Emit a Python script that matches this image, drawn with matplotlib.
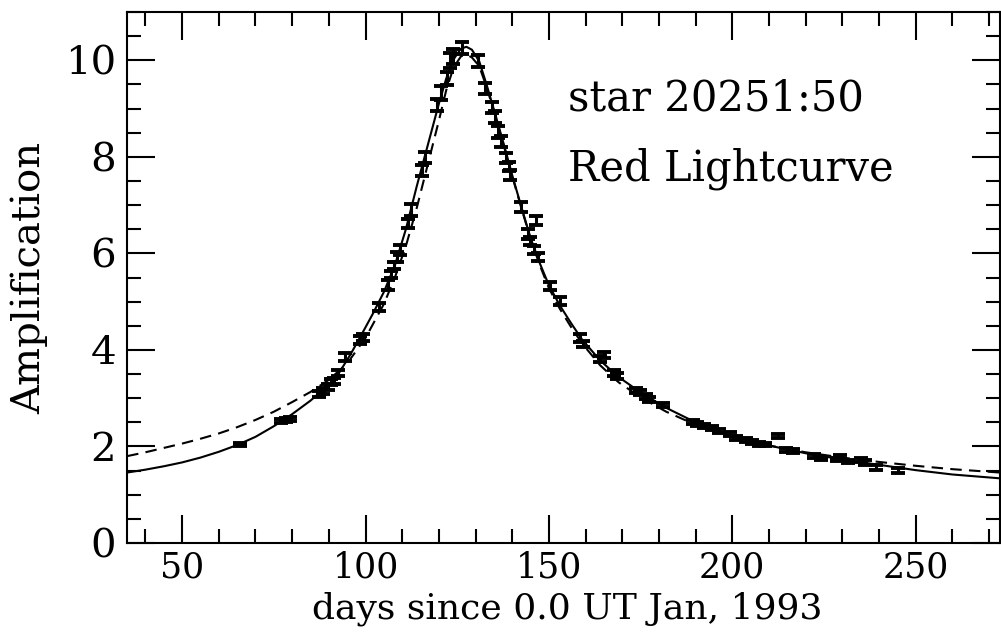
import matplotlib
matplotlib.use('Agg')
import matplotlib.pyplot as plt
from matplotlib.ticker import MultipleLocator

plt.rcParams['font.family'] = ['DejaVu Serif']

# fit curves (day, amplification)
solid_t = [35, 40, 45, 50, 55, 60, 65, 70, 75, 80, 85, 90, 93, 96, 99, 102,
           105, 108, 111, 114, 117, 120, 122, 124, 126, 127.5, 129, 131, 133,
           135.5, 138, 140, 142.5, 145, 147.5, 150, 153, 156, 159, 164, 169,
           175, 182, 190, 200, 210, 220, 230, 240, 250, 260, 273]
solid_a = [1.46, 1.52, 1.59, 1.67, 1.77, 1.89, 2.03, 2.20, 2.42, 2.67, 2.95,
           3.28, 3.55, 3.92, 4.33, 4.75, 5.20, 5.75, 6.50, 7.40, 8.25, 9.10,
           9.62, 10.02, 10.24, 10.28, 10.22, 9.98, 9.50, 8.85, 8.18, 7.62,
           6.96, 6.32, 5.80, 5.34, 4.92, 4.56, 4.22, 3.78, 3.44, 3.12, 2.80,
           2.50, 2.21, 2.02, 1.86, 1.73, 1.62, 1.51, 1.42, 1.34]

dash_t = [35, 40, 45, 50, 55, 60, 65, 70, 75, 80, 85, 90, 95, 100, 105, 108,
          111, 114, 117, 120, 122, 124, 126, 127.5, 129, 131, 133, 135.5, 138,
          140, 142.5, 145, 147.5, 150, 153, 156, 159, 164, 169, 175, 182, 190,
          200, 210, 220, 230, 240, 250, 260, 273]
dash_a = [1.80, 1.88, 1.97, 2.06, 2.16, 2.27, 2.40, 2.55, 2.72, 2.92, 3.13,
          3.38, 3.72, 4.25, 4.95, 5.50, 6.15, 6.95, 7.85, 8.75, 9.38, 9.85,
          10.08, 10.12, 10.06, 9.88, 9.45, 8.82, 8.15, 7.60, 6.94, 6.30, 5.76,
          5.28, 4.85, 4.48, 4.14, 3.68, 3.33, 3.02, 2.72, 2.45, 2.19, 2.02,
          1.88, 1.77, 1.68, 1.60, 1.53, 1.46]

# measurements
days = [65.7, 77.0, 78.2, 79.3, 87.3, 88.5, 89.7, 90.6, 91.5, 92.6, 94.3,
        98.4, 99.2, 103.6, 106.1, 107.0, 107.9, 108.5, 109.3, 111.5, 112.5,
        115.3, 116.3, 119.5, 120.5, 122.3, 122.9, 123.8, 126.4, 130.6, 132.7,
        134.6, 135.4, 136.1, 137.0, 138.3, 139.0, 139.4, 142.3, 146.5, 144.3,
        144.8, 146.0, 147.0, 150.4, 152.9, 158.4, 159.3, 163.8, 164.9, 167.8,
        168.6, 173.8, 174.8, 176.4, 177.4, 181.1, 189.3, 190.5, 192.2, 194.5,
        196.5, 199.5, 201.0, 203.8, 205.5, 207.4, 209.0, 212.4, 214.7, 216.5,
        222.3, 224.3, 228.5, 229.5, 231.5, 235.2, 236.2, 239.3, 245.2]
ampl = [2.05, 2.52, 2.55, 2.57, 3.09, 3.15, 3.24, 3.33, 3.36, 3.52, 3.86,
        4.20, 4.26, 4.89, 5.34, 5.56, 5.75, 5.92, 6.07, 6.62, 6.90,
        7.72, 7.99, 9.08, 9.32, 9.62, 10.00, 10.08, 10.26, 9.98, 9.42,
        9.02, 8.82, 8.51, 8.32, 7.97, 7.80, 7.62, 6.96, 6.68, 6.40,
        6.26, 6.07, 5.93, 5.32, 5.01, 4.24, 4.12, 3.82, 3.90, 3.52,
        3.46, 3.16, 3.12, 3.04, 2.97, 2.86, 2.50, 2.47, 2.42, 2.38,
        2.32, 2.25, 2.18, 2.13, 2.10, 2.06, 2.04, 2.21, 1.93, 1.90,
        1.81, 1.75, 1.73, 1.79, 1.69, 1.72, 1.66, 1.56, 1.50]
err = [0.03, 0.04, 0.04, 0.04, 0.06, 0.06, 0.06, 0.06, 0.06, 0.06, 0.08,
       0.08, 0.08, 0.08, 0.10, 0.08, 0.08, 0.10, 0.10, 0.10, 0.12,
       0.12, 0.12, 0.12, 0.14, 0.14, 0.15, 0.15, 0.12, 0.12, 0.12,
       0.12, 0.12, 0.12, 0.12, 0.10, 0.10, 0.10, 0.10, 0.10, 0.10,
       0.08, 0.08, 0.08, 0.08, 0.08, 0.08, 0.06, 0.06, 0.06, 0.06,
       0.06, 0.05, 0.05, 0.05, 0.05, 0.05, 0.04, 0.04, 0.04, 0.04,
       0.04, 0.04, 0.04, 0.04, 0.04, 0.04, 0.04, 0.04, 0.04, 0.04,
       0.04, 0.04, 0.04, 0.04, 0.04, 0.05, 0.05, 0.05, 0.05]

fig = plt.figure(figsize=(10.01, 6.34), dpi=100)
ax = fig.add_axes([0.127, 0.1435, 0.872, 0.8375])

ax.plot(solid_t, solid_a, color='black', lw=1.5)
ax.plot(dash_t, dash_a, color='black', lw=1.5, dashes=(5.5, 3.5))
ax.errorbar(days, ampl, yerr=err, fmt='none', ecolor='black',
            elinewidth=2.2, capsize=5, capthick=2.8)

ax.set_xlim(35, 273)
ax.set_ylim(0, 11)
ax.xaxis.set_major_locator(MultipleLocator(50))
ax.xaxis.set_minor_locator(MultipleLocator(10))
ax.yaxis.set_major_locator(MultipleLocator(2))
ax.yaxis.set_minor_locator(MultipleLocator(0.5))
ax.tick_params(which='both', direction='in', top=True, right=True,
               width=1.5, labelsize=29)
ax.tick_params(which='major', length=20)
ax.tick_params(which='minor', length=10)
ax.tick_params(axis='x', pad=5.5, labelsize=25)
ax.tick_params(axis='y', pad=8)
for s in ax.spines.values():
    s.set_linewidth(1.5)

# x label sits just under the tick numbers
ax.set_xlabel('days since 0.0 UT Jan, 1993', fontsize=26)
ax.xaxis.set_label_coords(0.504, -0.091)
ax.set_ylabel('Amplification', fontsize=29, labelpad=12)

ax.text(155.1, 8.96, 'star 20251:50', fontsize=30, va='baseline')
ax.text(155.1, 7.52, 'Red Lightcurve', fontsize=30, va='baseline')

fig.savefig('out.png', dpi=100)
